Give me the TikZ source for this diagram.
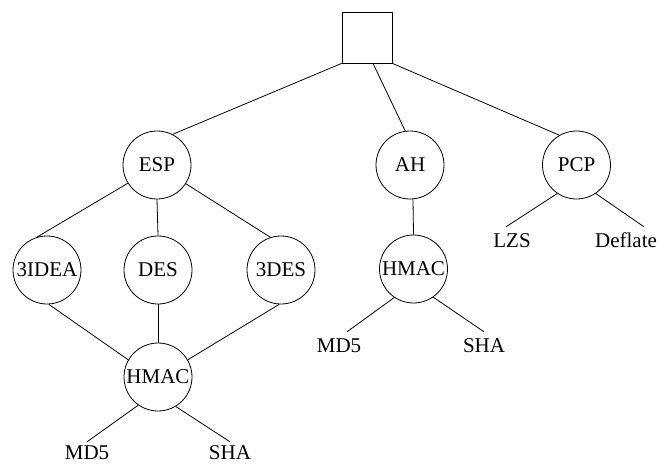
\documentclass[tikz,border=0pt]{standalone}
\usepackage{fontspec}
\setmainfont{Liberation Serif}
\begin{document}
\begin{tikzpicture}[x=1pt,y=-1pt,
  every node/.style={font=\fontsize{21}{24}\selectfont},
  circ/.style={draw,circle,minimum size=68pt,inner sep=0pt,line width=0.8pt},
  sqbox/.style={draw,rectangle,minimum width=50pt,minimum height=51pt,inner sep=0pt,line width=0.8pt},
  lbl/.style={inner xsep=0pt,inner ysep=6pt,text height=14pt,text depth=0pt,anchor=base},
  conn/.style={line width=0.8pt}]
\useasboundingbox (0,0) rectangle (666,463);
\node[sqbox] (sq) at (367,37.5) {};
\node[circ] (esp) at (157,165) {ESP};
\node[circ] (ah) at (410,165) {AH};
\node[circ] (pcp) at (576.5,165) {PCP};
\node[circ] (idea) at (47,270) {3IDEA};
\node[circ] (des) at (158,270) {DES};
\node[circ] (tdes) at (281,270) {3DES};
\node[circ] (hmacm) at (413.5,269) {HMAC};
\node[circ] (hmacb) at (158,377) {HMAC};
\node[lbl] (md5b) at (87,459) {MD5};
\node[lbl] (shab) at (230,459) {SHA};
\node[lbl] (md5m) at (339,352) {MD5};
\node[lbl] (sham) at (484,352) {SHA};
\node[lbl] (lzs) at (512,247) {LZS};
\node[lbl] (defl) at (626,247) {Deflate};
\draw[conn] (sq.south west) -- (esp.63);
\draw[conn] ([xshift=6pt]sq.south) -- (ah.98);
\draw[conn] (sq.south east) -- (pcp.120);
\draw[conn] (esp.212) -- (idea.107);
\draw[conn] (esp.south) -- (des.north);
\draw[conn] (esp.327) -- (tdes.108);
\draw[conn] (idea.273) -- (hmacb.150);
\draw[conn] (des.south) -- (hmacb.north);
\draw[conn] (tdes.267) -- (hmacb.30);
\draw[conn] (hmacb.235) -- ([yshift=-3pt]md5b.north);
\draw[conn] (hmacb.301) -- ([yshift=-3pt]shab.north);
\draw[conn] (ah.275) -- (hmacm.north);
\draw[conn] (hmacm.236) -- ([xshift=8pt]md5m.north);
\draw[conn] (hmacm.305) -- (sham.north);
\draw[conn] (pcp.236) -- ([xshift=-6pt]lzs.north);
\draw[conn] (pcp.304) -- ([xshift=18pt]defl.north);
\end{tikzpicture}
\end{document}
